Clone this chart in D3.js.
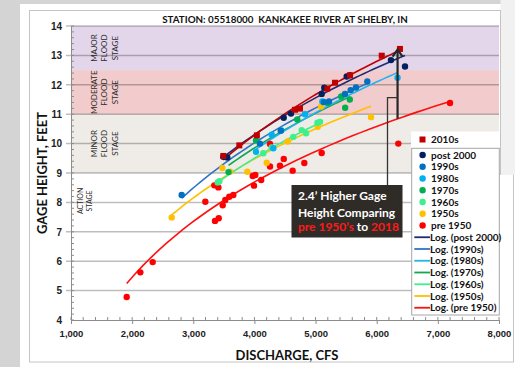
<!DOCTYPE html>
<html>
<head>
<meta charset="utf-8">
<script src="https://cdn.jsdelivr.net/npm/d3@7"></script>
<style>
  body { margin: 0; background: #d4d4d4; }
  svg { display: block; font-family: Lato, "Open Sans", sans-serif; }
</style>
</head>
<body>
<svg id="chart" width="515" height="367"></svg>
<script>
// discharge (cfs), gage height (ft)
const pre1950 = [[1911,4.78],[2134,5.62],[2336,5.97],[3197,8.02],[3355,7.37],[3416,7.46],[3481,7.90],
  [3344,8.58],[3410,8.51],[3524,8.08],[3589,8.19],[3655,8.25],[3972,8.90],[4014,8.93],[3993,8.57],
  [4111,8.76],[4255,9.99],[4255,9.22],[4418,9.25],[4480,9.48],[4625,9.08],[4816,9.34],[5100,9.68],
  [6353,10.0],[7199,11.38]];
const s1950s = [[2647,7.49],[3475,9.17],[3600,9.04],[3884,9.04],[4201,9.35],[4544,10.07],[5035,10.57],
  [5089,11.26],[5907,10.90]];
const s1960s = [[3399,8.68],[3426,8.72],[4145,9.67],[4283,9.87],[4636,10.23],[4773,10.46],[4844,10.35],
  [5030,10.71],[5073,10.74]];
const s1970s = [[3576,9.03],[4026,10.11],[4701,10.82],[5200,11.38],[5419,11.60],[5484,11.22],[5560,11.50]];
const s1980s = [[4026,9.72],[4283,10.30],[4309,9.84],[4440,10.45],[4827,11.0],[5111,11.43],[6341,12.24]];
const s1990s = [[2810,8.25],[4090,10.0],[4430,10.44],[5138,11.41],[5220,11.43],[5481,11.69],[5574,11.82],
  [5661,11.91],[5846,12.11]];
const post2000 = [[3491,9.55],[3556,9.53],[4479,10.88],[4598,11.02],[5100,11.69],[5143,11.90],[5509,12.28],
  [5563,12.33],[6233,12.84],[6463,12.62]];
const s2010s = [[3491,9.58],[3753,9.94],[4040,10.28],[4664,11.15],[4745,11.19],[5192,11.87],[5318,12.07],
  [5563,12.32],[6082,12.99],[6380,13.22]];

const stages = [
  { lo: 12.5, hi: 14, fill: '#e3d6eb', lines: ['MAJOR', 'FLOOD', 'STAGE'] },
  { lo: 11, hi: 12.5, fill: '#f2cccc', lines: ['MODERATE', 'FLOOD', 'STAGE'] },
  { lo: 9, hi: 11, fill: '#efece8', lines: ['MINOR', 'FLOOD', 'STAGE'] }
];
const xTicks = [1000, 2000, 3000, 4000, 5000, 6000, 7000, 8000];
const yTicks = [4, 5, 6, 7, 8, 9, 10, 11, 12, 13, 14];

const series = [
  { name: '2010s', data: s2010s, color: '#c00000', line: '#c00000', square: true, legendLine: false },
  { name: 'post 2000', data: post2000, color: '#002060', line: '#1f2a70' },
  { name: '1990s', data: s1990s, color: '#0070c0', line: '#2e75c6' },
  { name: '1980s', data: s1980s, color: '#00b0f0', line: '#22b4f0' },
  { name: '1970s', data: s1970s, color: '#00b050', line: '#10a850' },
  { name: '1960s', data: s1960s, color: '#3cf08c', line: '#40f090' },
  { name: '1950s', data: s1950s, color: '#ffc000', line: '#ffc000' },
  { name: 'pre 1950', data: pre1950, color: '#ff0000', line: '#ff1010' }
];

const svg = d3.select('#chart');
const plotL = 71, plotR = 499, plotT = 26, plotB = 320;

// card
svg.append('rect').attr('x', 20).attr('y', 4).attr('width', 495).attr('height', 363).attr('fill', '#fff');
svg.append('rect').attr('x', 29.5).attr('y', 10.5).attr('width', 484).attr('height', 351.5)
  .attr('fill', 'none').attr('stroke', '#c4c4c4');
svg.append('rect').attr('x', 500.5).attr('y', 0).attr('width', 15).attr('height', 175).attr('fill', '#f1f1f1');
svg.append('line').attr('x1', 500.5).attr('x2', 500.5).attr('y1', 10).attr('y2', 175).attr('stroke', '#c4c4c4');

const x = d3.scaleLinear().domain([1000, 8000]).range([plotL, plotR]);
const y = d3.scaleLinear().domain([4, 14]).range([plotB, plotT]);

// stage bands
svg.selectAll('rect.band').data(stages).enter().append('rect')
  .attr('class', 'band')
  .attr('x', plotL).attr('width', plotR - plotL)
  .attr('y', d => y(d.hi)).attr('height', d => y(d.lo) - y(d.hi))
  .attr('fill', d => d.fill);

// gridlines
svg.selectAll('line.grid').data(yTicks.slice(1)).enter().append('line')
  .attr('class', 'grid')
  .attr('x1', plotL - 5).attr('x2', plotR)
  .attr('y1', d => y(d)).attr('y2', d => y(d))
  .attr('stroke', '#000').attr('stroke-opacity', 0.26).attr('stroke-width', 1.5);

// stage labels
function stageLabel(cx, cy, lines, size) {
  const t = svg.append('text')
    .attr('transform', `translate(${cx},${cy}) rotate(-90)`)
    .attr('text-anchor', 'middle').attr('font-size', size).attr('fill', '#2a2a2a');
  lines.forEach((l, i) => {
    t.append('tspan').attr('x', 0).attr('y', i * (size + 2.6)).text(l);
  });
}
stages.forEach(s => stageLabel(96.8, (y(s.lo) + y(s.hi)) / 2, s.lines, 8));
stageLabel(82.5, y(8.05), ['ACTION', 'STAGE'], 7);

// axes
const yAxis = d3.axisLeft(y).tickValues(yTicks).tickSize(0).tickPadding(9);
const gy = svg.append('g').attr('transform', `translate(${plotL},0)`).call(yAxis);
gy.select('.domain').attr('stroke', '#8c8c8c');
gy.selectAll('text').attr('font-size', 10).attr('font-weight', 'bold').attr('fill', '#222');

const xAxis = d3.axisBottom(x).tickValues(xTicks).tickSize(4).tickPadding(6).tickFormat(d3.format(','));
const gx = svg.append('g').attr('transform', `translate(0,${plotB})`).call(xAxis);
gx.select('.domain').attr('stroke', '#8c8c8c');
gx.selectAll('line').attr('stroke', '#8c8c8c');
gx.selectAll('text').attr('font-size', 9.5).attr('font-weight', 'bold').attr('fill', '#222');

// minor ticks
svg.append('g').selectAll('line').data(d3.range(1000, 8001, 200)).enter().append('line')
  .attr('x1', d => x(d)).attr('x2', d => x(d)).attr('y1', plotB).attr('y2', plotB - 3)
  .attr('stroke', '#8c8c8c');
svg.append('g').selectAll('line').data(d3.range(40, 141, 2).map(v => v / 10)).enter().append('line')
  .attr('x1', plotL).attr('x2', plotL + 3).attr('y1', d => y(d)).attr('y2', d => y(d))
  .attr('stroke', '#8c8c8c');

// logarithmic trend lines (least squares on ln x)
function logFit(pts) {
  const lx = pts.map(p => Math.log(p[0]));
  const mx = d3.mean(lx), my = d3.mean(pts, p => p[1]);
  let sxy = 0, sxx = 0;
  pts.forEach((p, i) => { sxy += (lx[i] - mx) * (p[1] - my); sxx += (lx[i] - mx) ** 2; });
  const b = sxy / sxx, a = my - b * mx;
  return v => a + b * Math.log(v);
}
const line = d3.line().x(d => x(d[0])).y(d => y(d[1]));
series.slice().reverse().forEach(s => {
  const f = logFit(s.data);
  const [x0, x1] = d3.extent(s.data, d => d[0]);
  const pts = d3.range(0, 41).map(i => { const v = x0 + (x1 - x0) * i / 40; return [v, f(v)]; });
  svg.append('path').attr('d', line(pts)).attr('fill', 'none')
    .attr('stroke', s.line).attr('stroke-width', 1.6);
});

// markers
series.slice().reverse().forEach(s => {
  const g = svg.append('g').attr('fill', s.color);
  if (s.square) {
    g.selectAll('rect').data(s.data).enter().append('rect')
      .attr('x', d => x(d[0]) - 3).attr('y', d => y(d[1]) - 3).attr('width', 6).attr('height', 6);
  } else {
    g.selectAll('circle').data(s.data).enter().append('circle')
      .attr('cx', d => x(d[0])).attr('cy', d => y(d[1])).attr('r', 3.2);
  }
});

// 2.4 ft arrow and callout
const arrowQ = 6341, arrowFrom = 10.85, arrowTo = 13.2;
svg.append('line').attr('x1', x(arrowQ)).attr('x2', x(arrowQ))
  .attr('y1', y(arrowFrom)).attr('y2', y(arrowTo) + 1)
  .attr('stroke', '#262626').attr('stroke-width', 2.2);
svg.append('path')
  .attr('d', `M${x(arrowQ) - 5},${y(arrowTo) + 7}L${x(arrowQ)},${y(arrowTo)}L${x(arrowQ) + 5},${y(arrowTo) + 7}`)
  .attr('fill', 'none').attr('stroke', '#262626').attr('stroke-width', 2.2);
svg.append('path').attr('d', `M387.5,185V97.7H${x(arrowQ)}`)
  .attr('fill', 'none').attr('stroke', '#333').attr('stroke-width', 1.3);
svg.append('rect').attr('x', 291.5).attr('y', 185).attr('width', 111).attr('height', 52.5).attr('fill', '#2f2b26');
const call = svg.append('text').attr('font-size', 12).attr('font-weight', 'bold').attr('fill', '#fff');
call.append('tspan').attr('x', 298).attr('y', 200).text('2.4’ Higher Gage');
call.append('tspan').attr('x', 298).attr('y', 216.5).text('Height Comparing');
const l3 = call.append('tspan').attr('x', 298).attr('y', 231);
l3.append('tspan').attr('fill', '#ff1a1a').text('pre 1950’s');
l3.append('tspan').text(' to ');
l3.append('tspan').attr('fill', '#ff1a1a').text('2018');

// legend
svg.append('rect').attr('x', 411).attr('y', 131.5).attr('width', 88.5).attr('height', 17).attr('fill', '#fff');
svg.append('rect').attr('x', 411.7).attr('y', 148.3).attr('width', 87.6).attr('height', 166.7)
  .attr('fill', '#fff').attr('stroke', '#a6a6a6');
const legendRows = series.map(s => ({ s, kind: 'pt' }))
  .concat(series.filter(s => s.legendLine !== false).map(s => ({ s, kind: 'line' })));
const rowY = i => (i === 0 ? 139.5 : 155 + (i - 1) * 11.75);
legendRows.forEach((r, i) => {
  const cy = rowY(i);
  if (r.kind === 'pt') {
    if (r.s.square) {
      svg.append('rect').attr('x', 419.5).attr('y', cy - 3).attr('width', 6).attr('height', 6).attr('fill', r.s.color);
    } else {
      svg.append('circle').attr('cx', 422.6).attr('cy', cy).attr('r', 3.2).attr('fill', r.s.color);
    }
  } else {
    svg.append('line').attr('x1', 414.3).attr('x2', 430).attr('y1', cy).attr('y2', cy)
      .attr('stroke', r.s.line).attr('stroke-width', 1.8);
  }
  svg.append('text').attr('x', r.kind === 'pt' ? 431 : 430).attr('y', cy + 3.6)
    .attr('font-size', 10).attr('font-weight', 'bold').attr('fill', '#111')
    .text(r.kind === 'pt' ? r.s.name : `Log. (${r.s.name})`);
});

// titles
svg.append('text').attr('x', 285).attr('y', 23).attr('text-anchor', 'middle')
  .attr('font-size', 9.8).attr('font-weight', 'bold').attr('fill', '#111')
  .attr('xml:space', 'preserve').text('STATION: 05518000  KANKAKEE RIVER AT SHELBY, IN');
svg.append('text').attr('transform', `translate(46.5,${(plotT + plotB) / 2}) rotate(-90)`)
  .attr('text-anchor', 'middle').attr('font-size', 13).attr('font-weight', 'bold').attr('fill', '#111')
  .text('GAGE HEIGHT, FEET');
svg.append('text').attr('x', (plotL + plotR) / 2 + 2).attr('y', 359.5).attr('text-anchor', 'middle')
  .attr('font-size', 13).attr('font-weight', 'bold').attr('fill', '#111')
  .text('DISCHARGE, CFS');
</script>
</body>
</html>
